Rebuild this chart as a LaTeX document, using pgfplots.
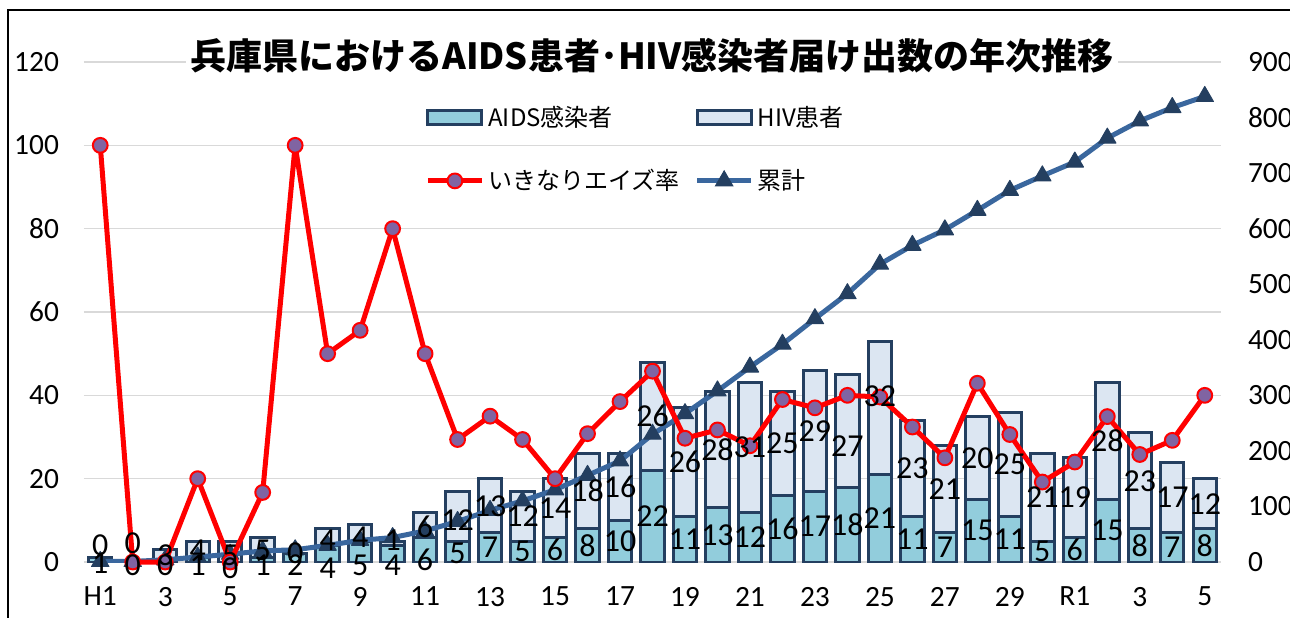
\documentclass[border=0pt]{standalone}
\usepackage{fontspec}
\setmainfont{Carlito}
\newfontfamily\jp{Noto Sans CJK JP}
\usepackage{pgfplots}
\usepackage{pgfplotstable}
\pgfplotsset{compat=1.18}
\definecolor{aids}{HTML}{92CDDC}
\definecolor{hiv}{HTML}{DCE6F2}
\definecolor{navy}{HTML}{243F60}
\definecolor{cumc}{HTML}{3A679E}
\definecolor{mk}{HTML}{8064A2}
\definecolor{gridc}{HTML}{D9D9D9}

\pgfplotstableread{
x aids hiv rate cum
0 1 0 100 1
1 0 0 0 1
2 0 3 0 4
3 1 4 20 9
4 0 5 0 14
5 1 5 16.7 20
6 2 0 100 22
7 4 4 50 30
8 5 4 55.6 39
9 4 1 80 44
10 6 6 50 56
11 5 12 29.4 73
12 7 13 35 93
13 5 12 29.4 110
14 6 14 20 130
15 8 18 30.8 156
16 10 16 38.5 182
17 22 26 45.8 230
18 11 26 29.7 267
19 13 28 31.7 308
20 12 31 27.9 351
21 16 25 39.0 392
22 17 29 37.0 438
23 18 27 40.0 483
24 21 32 39.6 536
25 11 23 32.4 570
26 7 21 25.0 598
27 15 20 42.9 633
28 11 25 30.6 669
29 5 21 19.2 695
30 6 19 24.0 720
31 15 28 34.9 763
32 8 23 25.8 794
33 7 17 29.2 818
34 8 12 40.0 838
}\data

\pgfplotstableread{
x y lab
0 -0.2 1
0 4.1 0
1 -0.7 0
1 4.5 0
2 -0.7 0
2 1.7 3
3 -0.7 1
3 2.9 4
4 -1.5 0
4 1.7 5
5 -0.7 1
5 2.9 5
6 -0.7 2
6 2.2 0
7 -1.5 4
7 5.3 4
8 -0.7 5
8 6 4
9 -0.7 4
9 5.3 1
10 0.5 6
10 8.5 6
11 2 5
11 10 12
12 3.5 7
12 13.5 13
13 2.5 5
13 11 12
14 3 6
14 13 14
15 4 8
15 17 18
16 5 10
16 18 16
17 11 22
17 35 26
18 5.5 11
18 24 26
19 6.5 13
19 27 28
20 6 12
20 27.5 31
21 8 16
21 28.5 25
22 8.5 17
22 31.5 29
23 9 18
23 27.7 27
24 10.5 21
24 39.7 32
25 5.5 11
25 22.5 23
26 3.5 7
26 17.5 21
27 7.5 15
27 25 20
28 5.5 11
28 23.5 25
29 2.5 5
29 15.5 21
30 3 6
30 15.5 19
31 7.5 15
31 29 28
32 4 8
32 19.5 23
33 3.5 7
33 15.5 17
34 4 8
34 14 12
}\labels

\pgfplotsset{
  common/.style={
    scale only axis, width=568.5pt, height=250pt,
    xmin=-0.5, xmax=34.5,
    major tick length=0pt,
    /pgf/number format/assume math mode=true,
    tick label style={font=\fontsize{14.7}{17}\selectfont},
  },
  lineleg/.style={legend image code/.code={\draw[mark repeat=2,mark phase=2,##1] plot coordinates {(0pt,0pt) (13.5pt,0pt) (27pt,0pt)};}},
  aidsleg/.style={legend image code/.code={\draw[fill=aids, draw=navy, line width=1.5pt] (0pt,-3.5pt) rectangle (27pt,3.5pt);}},
  hivleg/.style={legend image code/.code={\draw[fill=hiv, draw=navy, line width=1.5pt] (0pt,-3.5pt) rectangle (27pt,3.5pt);}},
}

\begin{document}
\begin{tikzpicture}
\begin{axis}[common, name=ax,
  ymin=0, ymax=120, ytick={0,20,...,120},
  ymajorgrids, grid style={gridc, line width=0.75pt},
  axis line style={draw=none},
  xtick={0,2,...,34},
  xticklabels={H1,3,5,7,9,11,13,15,17,19,21,23,25,27,29,R1,3,5},
  xticklabel style={yshift=-9pt},
  yticklabel style={xshift=-9pt},
  ybar stacked, bar width=0.72,
]
\addplot[fill=aids, draw=navy, line width=1.5pt] table[x=x,y=aids]{\data};
\addplot[fill=hiv, draw=navy, line width=1.5pt] table[x=x,y=hiv]{\data};
\end{axis}

\begin{axis}[common, at={(ax.south west)}, anchor=south west,
  ymin=0, ymax=900, ytick={0,100,...,900},
  axis y line*=right, hide x axis,
  y axis line style={draw=none},
  yticklabel style={xshift=10pt},
]
\addplot[cumc, line width=2.5pt, line join=round, mark=triangle*, mark size=5pt,
  mark options={fill=navy, draw=navy, line width=0.5pt}] table[x=x,y=cum]{\data};
\end{axis}

\begin{axis}[common, at={(ax.south west)}, anchor=south west,
  ymin=0, ymax=120, hide axis, clip=false,
  legend columns=2,
  legend cell align=left,
  legend style={draw=none, fill=none, inner sep=0pt,
    at={(axis description cs:0.2999,0.921)}, anchor=north west,
    font=\jp\fontsize{12}{14}\selectfont,
    row sep=16pt,
    /tikz/every even column/.append style={column sep=5.5pt}},
]
\addlegendimage{aidsleg}
\addlegendentry{AIDS感染者}
\addlegendimage{hivleg}
\addlegendentry{HIV患者}
\addplot[red, line width=2.5pt, line join=round, mark=*, mark size=3.7pt,
  mark options={fill=mk, draw=red, line width=1pt}, lineleg]
  table[x=x,y=rate]{\data};
\addlegendentry{いきなりエイズ率}
\addlegendimage{cumc, line width=2.5pt, mark=triangle*, mark size=5pt,
  mark options={fill=navy, draw=navy, line width=0.5pt}, lineleg}
\addlegendentry{累計}
\addplot[draw=none, mark=none, nodes near coords, point meta=explicit symbolic,
  nodes near coords style={anchor=center, inner sep=0pt, font=\fontsize{16}{18}\selectfont, text=black},
  forget plot] table[x=x,y=y,meta=lab]{\labels};
\end{axis}

\node[fill=white, inner sep=2pt, font=\jp\bfseries\fontsize{18}{20}\selectfont]
  at ([shift={(284pt,253pt)}]ax.south west) {兵庫県におけるAIDS患者･HIV感染者届け出数の年次推移};
\draw[line width=1pt] ([shift={(-38pt,-40pt)}]ax.south west) -- ([shift={(-38pt,276pt)}]ax.south west) -- ([shift={(620pt,276pt)}]ax.south west);
\pgfresetboundingbox
\path ([shift={(-42pt,-27.5pt)}]ax.south west) rectangle ([shift={(603pt,281pt)}]ax.south west);
\end{tikzpicture}
\end{document}
